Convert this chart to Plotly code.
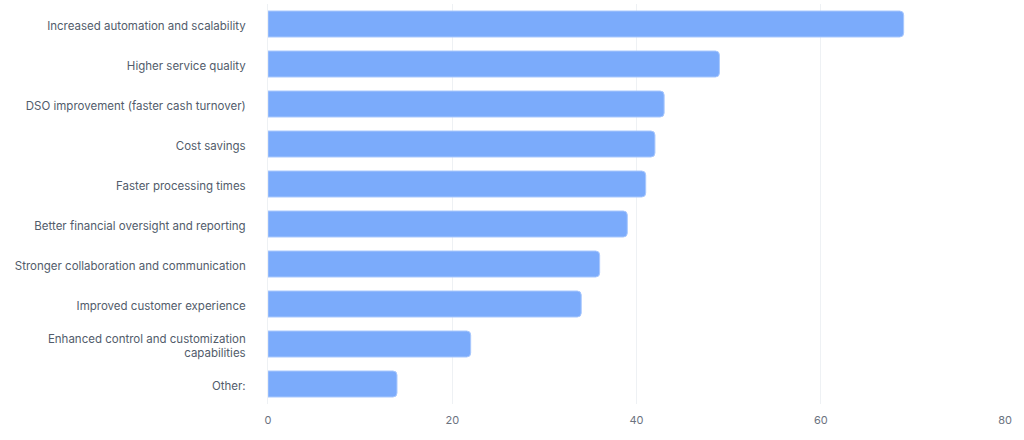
import plotly.graph_objects as go

categories = [
    "Increased automation and scalability",
    "Higher service quality",
    "DSO improvement (faster cash turnover)",
    "Cost savings",
    "Faster processing times",
    "Better financial oversight and reporting",
    "Stronger collaboration and communication",
    "Improved customer experience",
    "Enhanced control and customization<br>capabilities",
    "Other:",
]
values = [69, 49, 43, 42, 41, 39, 36, 34, 22, 14]
x_ticks = [0, 20, 40, 60, 80]

fig = go.Figure(
    go.Bar(
        x=values,
        y=categories,
        orientation="h",
        width=0.65,
        marker=dict(color="#7BABFB", line=dict(color="#A9C8FD", width=1)),
        hoverinfo="x+y",
    )
)

fig.update_layout(
    width=1024,
    height=440,
    margin=dict(l=268, r=19, t=4, b=36),
    paper_bgcolor="white",
    plot_bgcolor="white",
    font=dict(family="Inter", size=12, color="#525C6B"),
    barcornerradius=4,
    showlegend=False,
)
fig.update_xaxes(
    range=[0, 80],
    tickvals=x_ticks,
    showgrid=True,
    gridcolor="#EEF1F4",
    gridwidth=1,
    zeroline=False,
    showline=False,
    tickfont=dict(size=11, color="#6B7280"),
    ticklabelstandoff=8,
    automargin=False,
)
fig.update_yaxes(
    autorange="reversed",
    showgrid=False,
    zeroline=False,
    showline=True,
    linecolor="#EEF1F4",
    tickfont=dict(size=11.5, color="#525C6B"),
    ticklabelstandoff=19,
    ticklabelshift=-2,
    automargin=False,
)

fig.write_html(
    "out.html",
    config={"displayModeBar": False},
    post_script="document.body.style.margin='0';document.body.style.overflow='hidden';",
)
